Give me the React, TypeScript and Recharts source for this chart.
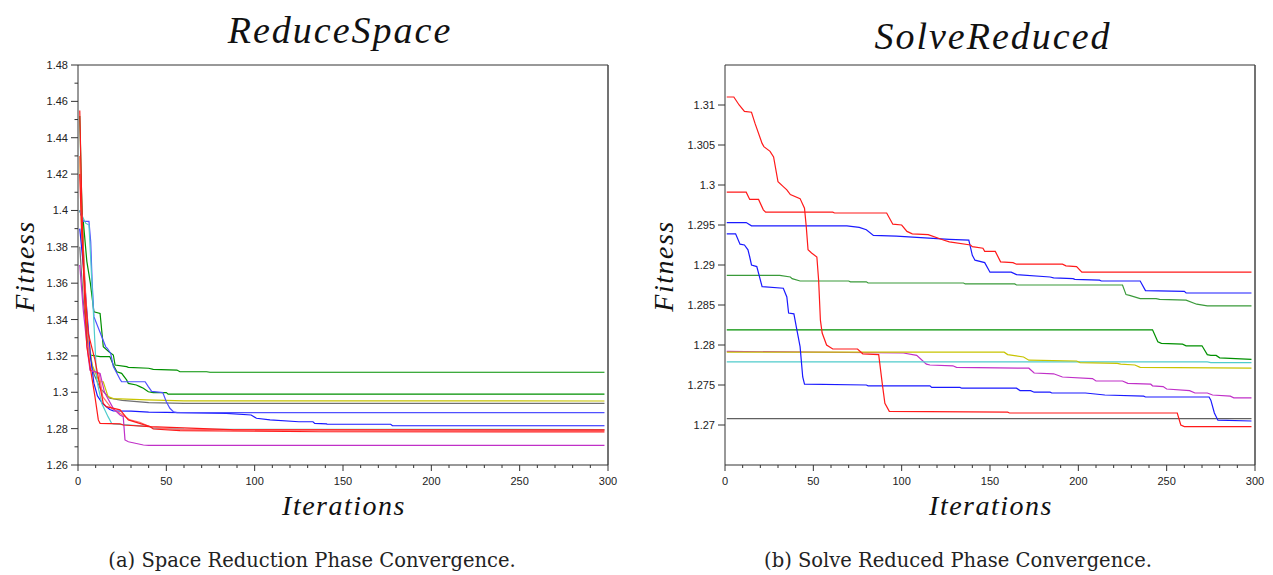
import React from "react";
import { LineChart, Line, XAxis, YAxis, ReferenceLine } from "recharts";

type P = [number, number];

// ---------- Left chart: ReduceSpace ----------
const leftGreenA: P[] = [[1,1.40],[3,1.394],[5,1.372],[7,1.36],[9,1.3443],[12.5,1.3434],[14.3,1.3251],[17.5,1.3223],[20,1.3205],[21,1.315],[27.5,1.3141],[28.5,1.3137],[40,1.3132],[42.6,1.3126],[56,1.3122],[57.7,1.3113],[72.8,1.3113],[74.7,1.311],[298,1.311]];
const leftGreenB: P[] = [[1,1.452],[2,1.41],[3,1.38],[5,1.33],[6.8,1.3205],[12.5,1.3196],[18,1.3196],[20,1.315],[22,1.3113],[24.7,1.3104],[27.5,1.3068],[28.5,1.3049],[33,1.304],[35,1.3031],[37,1.3022],[39.8,1.3003],[42.6,1.2998],[50,1.2998],[51,1.299],[298,1.299]];
const leftYellow: P[] = [[1,1.43],[2,1.39],[4,1.35],[6,1.33],[8,1.315],[12,1.3058],[14.3,1.3058],[17,1.2976],[20,1.2965],[39,1.2958],[60,1.2953],[298,1.2952]];
const leftGray: P[] = [[1,1.38],[3,1.35],[6,1.325],[9,1.31],[12.5,1.3022],[18,1.2967],[25,1.2955],[40,1.2943],[60,1.2939],[298,1.2939]];
const leftBlueLight: P[] = [[1,1.40],[3,1.394],[6.2,1.394],[7.2,1.3828],[8,1.3608],[9,1.3416],[15.7,1.325],[16.6,1.3242],[18.5,1.3214],[20,1.3141],[24,1.3068],[24.7,1.3058],[38,1.3058],[39.8,1.3031],[41.7,1.3005],[48,1.2998],[50,1.2948],[52,1.2912],[54,1.2893],[56,1.2888],[298,1.2888]];
const leftBlueDark: P[] = [[1,1.39],[3,1.37],[5,1.345],[7,1.32],[9,1.305],[11,1.298],[14,1.2936],[18,1.2905],[20,1.2898],[30,1.2896],[40,1.2891],[50,1.2889],[84,1.2884],[98,1.2875],[101,1.2857],[108.7,1.2848],[125,1.2838],[133,1.2838],[134,1.2829],[140.7,1.2826],[141,1.2824],[177,1.2824],[178,1.2816],[298,1.2816]];
const leftRedA: P[] = [[1,1.455],[2,1.41],[3,1.37],[4,1.345],[5,1.3251],[9.6,1.2976],[11.5,1.2848],[12.5,1.2829],[23.8,1.2826],[25.6,1.282],[40.8,1.2811],[42.6,1.2798],[57.7,1.2789],[137,1.2783],[298,1.2782]];
const leftRedB: P[] = [[1,1.42],[2,1.39],[4,1.355],[5.8,1.3324],[9.6,1.3178],[14.3,1.2939],[16,1.2921],[23.8,1.2903],[28.5,1.2848],[40.8,1.2811],[86,1.2795],[88,1.2793],[298,1.2793]];
const leftSalmon: P[] = [[1,1.43],[2,1.40],[4,1.36],[6.8,1.3122],[12,1.3104],[14,1.2976],[19,1.2912],[23.8,1.2884],[29.4,1.2848],[35,1.2835],[42,1.2805],[60,1.2795],[298,1.279]];
const leftCyan: P[] = [[1,1.40],[4.3,1.393],[6.2,1.392],[7,1.377],[8.7,1.3443],[10.6,1.3068],[13.4,1.2939],[17,1.2866],[19,1.2829],[20,1.2826],[40.8,1.2811],[42.6,1.2801],[60,1.2797],[298,1.2795]];
const leftMagenta: P[] = [[1,1.37],[3,1.345],[5.8,1.3196],[6.8,1.3122],[12.5,1.3104],[15,1.30],[20,1.291],[23.8,1.2875],[25.6,1.2866],[26.6,1.2738],[28.5,1.2728],[37,1.271],[40,1.2708],[298,1.2708]];

const leftXTicks = [0,10,20,30,40,50,60,70,80,90,100,110,120,130,140,150,160,170,180,190,200,210,220,230,240,250,260,270,280,290,300];
const leftYTicks = [1.26,1.27,1.28,1.29,1.30,1.31,1.32,1.33,1.34,1.35,1.36,1.37,1.38,1.39,1.40,1.41,1.42,1.43,1.44,1.45,1.46,1.47,1.48];

// ---------- Right chart: SolveReduced ----------
const rightRed1: P[] = [[1,1.311],[5,1.311],[8,1.31],[11,1.3092],[15,1.3091],[17,1.3077],[21,1.3052],[22,1.3048],[25.5,1.3042],[27.5,1.3035],[30,1.3004],[33,1.2998],[35,1.2994],[37,1.2988],[42.5,1.2983],[45,1.2971],[46,1.2948],[47,1.2919],[49,1.2915],[52,1.291],[53,1.2881],[54,1.2831],[55,1.2815],[57.5,1.28],[61,1.2795],[75,1.2795],[78,1.2789],[87,1.2788],[89,1.2752],[90.5,1.2727],[93,1.2717],[160,1.2716],[161,1.2715],[256,1.2715],[258,1.27],[260,1.2698],[298,1.2698]];
const rightRed2: P[] = [[1,1.2991],[12,1.2991],[14,1.2982],[19,1.2982],[21.7,1.2969],[23,1.2966],[61,1.2966],[62,1.2965],[91.5,1.2965],[95,1.2951],[100,1.295],[103,1.2942],[106,1.2939],[115,1.2938],[124,1.2931],[127,1.2929],[139,1.2925],[140,1.2923],[146,1.2921],[147,1.2917],[153,1.2917],[156,1.2904],[163,1.2903],[165,1.2901],[191,1.2901],[193,1.2899],[199,1.2898],[202,1.2891],[298,1.2891]];
const rightBlue1: P[] = [[1,1.2953],[12,1.2953],[15,1.2949],[69,1.2949],[76,1.2947],[80,1.2944],[84,1.2937],[97,1.2936],[127,1.2932],[138,1.2931],[140,1.2912],[141.5,1.2906],[147,1.2903],[150,1.2891],[162,1.2891],[165,1.2888],[184,1.2885],[186,1.2884],[197,1.2883],[198,1.2882],[212,1.2881],[213,1.288],[235,1.288],[238,1.2868],[260,1.2867],[261,1.2865],[298,1.2865]];
const rightBlue2: P[] = [[1,1.2939],[6,1.2939],[8.5,1.2926],[11,1.2925],[13,1.2919],[14,1.291],[15,1.29],[18,1.2898],[21,1.2873],[33,1.2871],[35,1.286],[36,1.284],[39,1.2839],[40.5,1.2821],[42.5,1.2798],[44,1.276],[45,1.2751],[80,1.275],[81,1.2749],[116,1.2749],[117,1.2747],[133,1.2747],[134,1.2746],[165,1.2746],[167,1.2743],[173,1.2743],[175,1.2741],[184,1.2741],[185,1.274],[204,1.274],[215,1.27375],[237,1.2736],[238,1.2735],[274,1.2735],[275,1.2731],[277,1.2715],[279,1.2706],[298,1.2705]];
const rightGreen1: P[] = [[1,1.2887],[31,1.2887],[37,1.2885],[38,1.2883],[42.5,1.288],[70,1.288],[71,1.2879],[80,1.2879],[81,1.28775],[135,1.28775],[136,1.28763],[164,1.28763],[165,1.2875],[225,1.2875],[227,1.2863],[229,1.2862],[235,1.2858],[244,1.2858],[246,1.2857],[261,1.2856],[267,1.2851],[273,1.2849],[298,1.2849]];
const rightGreen2: P[] = [[1,1.2819],[242,1.2819],[245,1.2804],[247,1.2802],[259,1.2801],[261,1.2799],[270,1.2799],[273,1.2788],[275,1.2787],[278,1.2787],[280,1.2784],[298,1.2782]];
const rightYellow: P[] = [[1,1.2791],[158,1.2791],[160,1.2788],[169,1.2785],[172,1.2781],[199,1.278],[201,1.2778],[222,1.2777],[224,1.2776],[232,1.2775],[235,1.2772],[298,1.2771]];
const rightCyan: P[] = [[1,1.2779],[273,1.2779],[275,1.2778],[298,1.2778]];
const rightMagenta: P[] = [[1,1.2792],[101,1.279],[108.5,1.2787],[114,1.2776],[116,1.2775],[129,1.2774],[131,1.2772],[172,1.2771],[175,1.2765],[186,1.2764],[191,1.276],[208,1.2758],[210,1.2755],[225,1.2755],[228,1.2752],[241,1.2751],[242,1.2749],[248,1.2748],[250,1.2745],[263,1.2743],[266,1.274],[273,1.274],[276,1.27375],[286,1.2736],[288,1.2734],[298,1.2734]];
const rightBlack: P[] = [[1,1.2708],[298,1.2708]];

const rightXTicks = leftXTicks;
const rightYTicks = [1.27,1.275,1.28,1.285,1.29,1.295,1.30,1.305,1.31];

const C = {
  green: "#009000",
  blue: "#1a1aff",
  red: "#ff1a1a",
  salmon: "#ff7070",
  yellow: "#c8c400",
  gray: "#707070",
  cyan: "#50cccc",
  magenta: "#c030c8",
  black: "#606060",
};

const leftSeries = [
  { pts: leftGreenA, c: C.green },
  { pts: leftGreenB, c: C.green },
  { pts: leftGray, c: C.gray },
  { pts: leftYellow, c: C.yellow },
  { pts: leftBlueDark, c: C.blue },
  { pts: leftBlueLight, c: "#5050ff" },
  { pts: leftCyan, c: C.cyan },
  { pts: leftSalmon, c: C.salmon },
  { pts: leftMagenta, c: C.magenta },
  { pts: leftRedB, c: C.red },
  { pts: leftRedA, c: C.red },
];

const rightSeries = [
  { pts: rightBlack, c: C.black },
  { pts: rightMagenta, c: C.magenta },
  { pts: rightCyan, c: C.cyan },
  { pts: rightYellow, c: C.yellow },
  { pts: rightGreen2, c: C.green },
  { pts: rightGreen1, c: "#3a9a3a" },
  { pts: rightBlue2, c: C.blue },
  { pts: rightBlue1, c: C.blue },
  { pts: rightRed2, c: C.red },
  { pts: rightRed1, c: C.red },
];

const toPts = (a: P[]) => a.map(([x, y]) => ({ x, y }));
const fmt = (v: number) => String(Number(v.toFixed(3)));
const TICK_FONT = "'Liberation Sans', Arial, sans-serif";
const AXIS = "#333";

const makeYTick = (isMajor: (v: number) => boolean) => (props: any) => {
  const { x, y, payload } = props;
  const major = isMajor(payload.value);
  const len = major ? 7 : 3.5;
  return (
    <g>
      <line x1={x} x2={x - len} y1={y} y2={y} stroke={AXIS} strokeWidth={1} />
      {major && (
        <text x={x - 10} y={y} dy={4} textAnchor="end" fontSize={11} fill="#222" fontFamily={TICK_FONT}>
          {fmt(payload.value)}
        </text>
      )}
    </g>
  );
};

const xTick = (props: any) => {
  const { x, y, payload } = props;
  const major = payload.value % 50 === 0;
  const len = major ? 6 : 3;
  return (
    <g>
      <line x1={x} x2={x} y1={y} y2={y + len} stroke={AXIS} strokeWidth={1} />
      {major && (
        <text x={x} y={y + 20} textAnchor="middle" fontSize={11} fill="#222" fontFamily={TICK_FONT}>
          {payload.value}
        </text>
      )}
    </g>
  );
};

const leftYMajor = (v: number) => Math.round(v * 100) % 2 === 0;
const rightYMajor = () => true;

function Panel(props: {
  series: { pts: P[]; c: string }[];
  yDomain: [number, number];
  yTicks: number[];
  xTicks: number[];
  yMajor: (v: number) => boolean;
  width: number;
  marginLeft: number;
  marginRight: number;
}) {
  const { series, yDomain, yTicks, xTicks, yMajor, width, marginLeft, marginRight } = props;
  return (
    <LineChart width={width} height={520} margin={{ top: 65, right: marginRight, left: marginLeft, bottom: 25 }}>
      <XAxis
        dataKey="x"
        type="number"
        domain={[0, 300]}
        ticks={xTicks}
        interval={0}
        tickSize={0}
        tickMargin={0}
        tick={xTick}
        height={30}
        axisLine={{ stroke: AXIS }}
        allowDataOverflow
      />
      <YAxis
        type="number"
        domain={yDomain}
        ticks={yTicks}
        interval={0}
        tickSize={0}
        tickMargin={0}
        tick={makeYTick(yMajor)}
        width={60}
        axisLine={{ stroke: AXIS }}
        allowDataOverflow
      />
      <ReferenceLine y={yDomain[1]} stroke={AXIS} strokeWidth={1} ifOverflow="extendDomain" />
      <ReferenceLine x={300} stroke="#444" strokeWidth={1.5} ifOverflow="extendDomain" />
      {series.map((s, i) => (
        <Line
          key={i}
          data={toPts(s.pts)}
          dataKey="y"
          type="linear"
          stroke={s.c}
          strokeWidth={1.2}
          dot={false}
          activeDot={false}
          isAnimationActive={false}
        />
      ))}
    </LineChart>
  );
}

const titleStyle: React.CSSProperties = {
  position: "absolute",
  fontFamily: "'Liberation Serif', 'DejaVu Serif', serif",
  fontStyle: "italic",
  fontSize: 38,
  letterSpacing: 2,
  color: "#111",
  whiteSpace: "nowrap",
  transform: "translate(-50%, -50%)",
  lineHeight: 1,
};
const axisLabelStyle: React.CSSProperties = {
  ...titleStyle,
  fontSize: 28,
  letterSpacing: 1.5,
};
const captionStyle: React.CSSProperties = {
  position: "absolute",
  fontFamily: "'DejaVu Serif', serif",
  fontSize: 19.5,
  color: "#222",
  whiteSpace: "nowrap",
  transform: "translate(-50%, -50%)",
  lineHeight: 1,
};

export default function App() {
  return (
    <div style={{ position: "absolute", left: 0, top: 0, width: 1273, height: 575, background: "#fff", overflow: "hidden" }}>
      <div style={{ position: "absolute", left: 0, top: 0 }}>
        <Panel series={leftSeries} yDomain={[1.26, 1.48]} yTicks={leftYTicks} xTicks={leftXTicks} yMajor={leftYMajor} width={640} marginLeft={18} marginRight={32} />
      </div>
      <div style={{ position: "absolute", left: 640, top: 0 }}>
        <Panel series={rightSeries} yDomain={[1.265, 1.315]} yTicks={rightYTicks} xTicks={rightXTicks} yMajor={rightYMajor} width={633} marginLeft={25} marginRight={18} />
      </div>

      <div style={{ ...titleStyle, left: 340, top: 30 }}>ReduceSpace</div>
      <div style={{ ...titleStyle, left: 993, top: 36 }}>SolveReduced</div>

      <div style={{ ...axisLabelStyle, left: 25, top: 266, transform: "translate(-50%, -50%) rotate(-90deg)" }}>Fitness</div>
      <div style={{ ...axisLabelStyle, left: 664, top: 266, transform: "translate(-50%, -50%) rotate(-90deg)" }}>Fitness</div>

      <div style={{ ...axisLabelStyle, left: 344, top: 506 }}>Iterations</div>
      <div style={{ ...axisLabelStyle, left: 991, top: 506 }}>Iterations</div>

      <div style={{ ...captionStyle, left: 312, top: 561 }}>(a) Space Reduction Phase Convergence.</div>
      <div style={{ ...captionStyle, left: 958, top: 561 }}>(b) Solve Reduced Phase Convergence.</div>
    </div>
  );
}
